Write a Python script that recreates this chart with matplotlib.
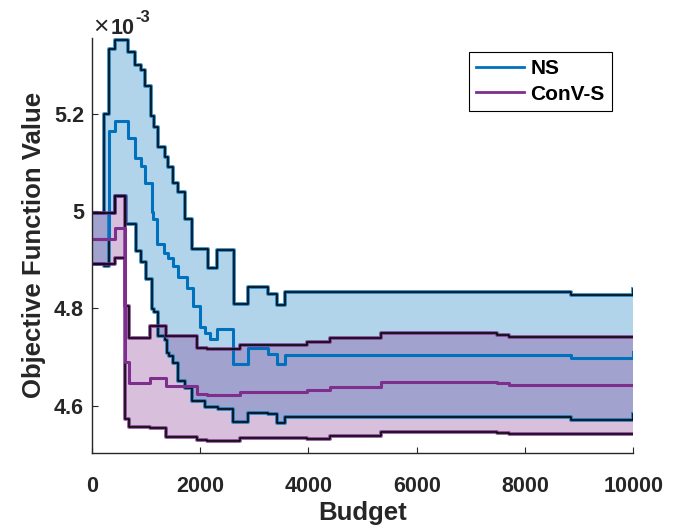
import numpy as np
import matplotlib
matplotlib.use("Agg")
import matplotlib.pyplot as plt
from matplotlib.lines import Line2D

# ---- data (objective values in units of 1e-3) ----
ns_up_x = [0, 230, 325, 430, 665, 800, 910, 990, 1100, 1150, 1218, 1353, 1400, 1500, 1590,
           1722, 1857, 2140, 2308, 2627, 2891, 3260, 3415, 3568, 8848, 10000]
ns_up_y = [4.997, 5.199, 5.332, 5.351, 5.327, 5.301, 5.289, 5.256, 5.195, 5.172, 5.131, 5.111, 5.090,
           5.058, 5.039, 4.983, 4.922, 4.884, 4.921, 4.809, 4.844, 4.829, 4.807, 4.834, 4.827, 4.840]

ns_med_x = [0, 325, 430, 665, 800, 910, 980, 1108, 1137, 1200, 1340, 1400, 1500, 1600, 1754,
            1864, 1999, 2100, 2184, 2308, 2614, 2891, 3260, 3415, 3568, 8848, 10000]
ns_med_y = [4.942, 5.164, 5.186, 5.150, 5.110, 5.093, 5.058, 4.998, 4.983, 4.933, 4.914, 4.904, 4.887,
            4.865, 4.842, 4.805, 4.762, 4.750, 4.737, 4.757, 4.686, 4.718, 4.706, 4.686, 4.704, 4.699, 4.711]

ns_lo_x = [0, 230, 325, 430, 633, 812, 910, 997, 1108, 1150, 1218, 1344, 1390, 1418, 1492, 1599,
           1722, 1852, 2092, 2337, 2614, 2891, 3260, 3415, 3568, 8848, 10000]
ns_lo_y = [4.891, 4.887, 4.997, 5.030, 4.974, 4.918, 4.896, 4.860, 4.799, 4.792, 4.744, 4.736, 4.709,
           4.703, 4.688, 4.651, 4.637, 4.610, 4.598, 4.593, 4.566, 4.586, 4.583, 4.565, 4.577, 4.571, 4.583]

cv_x = [0, 430, 615, 694, 1076, 1372, 1938, 2128, 2738, 3974, 4390, 5340, 7482, 7703, 10000]
cv_up_y = [4.997, 5.030, 4.805, 4.740, 4.764, 4.744, 4.718, 4.716, 4.725, 4.731, 4.739, 4.749,
           4.745, 4.742, 4.742]
cv_med_y = [4.942, 4.965, 4.689, 4.647, 4.658, 4.641, 4.624, 4.622, 4.629, 4.633, 4.638, 4.649,
            4.647, 4.643, 4.643]
cv_lo_y = [4.891, 4.903, 4.573, 4.556, 4.554, 4.536, 4.530, 4.528, 4.533, 4.532, 4.537, 4.547,
           4.545, 4.543, 4.543]

series_names = ["NS", "ConV-S"]
x_ticks = [0, 2000, 4000, 6000, 8000, 10000]
y_ticks = [4.6, 4.8, 5.0, 5.2]
y_tick_labels = ["4.6", "4.8", "5", "5.2"]

NS_C = "#0072BD"
CV_C = "#7E2F8E"
AX_C = "#262626"

plt.rcParams['font.family'] = ['Liberation Sans', 'DejaVu Sans']

def stepval(xs, ys, grid):
    xs = np.asarray(xs); ys = np.asarray(ys)
    idx = np.searchsorted(xs, grid, side='right') - 1
    return ys[idx]

fig = plt.figure(figsize=(7, 5.25), dpi=100)
ax = fig.add_axes([91.7/700, 1 - 452.5/525, (633.5-91.7)/700, (452.5-38.3)/525])

# NS
grid = np.union1d(np.union1d(ns_up_x, ns_lo_x), ns_med_x)
up = stepval(ns_up_x, ns_up_y, grid)
lo = stepval(ns_lo_x, ns_lo_y, grid)
ax.fill_between(grid, lo, up, step='post', color=NS_C, alpha=0.3, linewidth=0)
for xs, ys in [(ns_up_x, ns_up_y), (ns_lo_x, ns_lo_y)]:
    ax.step(xs, ys, where='post', color=NS_C, lw=2.8, alpha=0.75)
    ax.step(xs, ys, where='post', color='black', lw=1.1)
ax.step(ns_med_x, ns_med_y, where='post', color=NS_C, lw=2.2)

# ConV-S
ax.fill_between(cv_x, cv_lo_y, cv_up_y, step='post', color=CV_C, alpha=0.3, linewidth=0)
for ys in [cv_up_y, cv_lo_y]:
    ax.step(cv_x, ys, where='post', color=CV_C, lw=2.8, alpha=0.75)
    ax.step(cv_x, ys, where='post', color='black', lw=1.1)
ax.step(cv_x, cv_med_y, where='post', color=CV_C, lw=2.2)

ax.set_xlim(0, 10000)
ax.set_ylim(4.504, 5.355)
ax.set_xticks(x_ticks)
ax.set_xticklabels([str(t) for t in x_ticks])
ax.set_yticks(y_ticks)
ax.set_yticklabels(y_tick_labels)

for s in ['top', 'right']:
    ax.spines[s].set_visible(False)
for s in ['left', 'bottom']:
    ax.spines[s].set_color(AX_C)
    ax.spines[s].set_linewidth(1.0)
ax.tick_params(direction='in', length=4, width=0.8, colors=AX_C, labelsize=15.5)
ax.tick_params(axis='x', pad=17)
ax.tick_params(axis='y', pad=5.5)
for lab in ax.get_xticklabels() + ax.get_yticklabels():
    lab.set_fontweight('bold')

ax.set_xlabel("Budget", fontsize=18.5, fontweight='bold', color=AX_C, labelpad=2.5)
ax.set_ylabel("Objective Function Value", fontsize=18.5, fontweight='bold', color=AX_C, labelpad=6)

# exponent label
fig.text(93/700, 1 - 33.5/525, "\u00d7", fontsize=19, color=AX_C, va='baseline', ha='left')
fig.text(111/700, 1 - 33.5/525, "10", fontsize=15.5, fontweight='bold', color=AX_C, va='baseline', ha='left')
fig.text(135/700, 1 - 21.5/525, "-3", fontsize=12, fontweight='bold', color=AX_C, va='baseline', ha='left')

handles = [Line2D([], [], color=NS_C, lw=2), Line2D([], [], color=CV_C, lw=2)]
leg = ax.legend(handles, series_names, loc='upper right',
                bbox_to_anchor=(612/700, 1 - 52/525), bbox_transform=fig.transFigure,
                borderaxespad=0, fancybox=False, framealpha=1, edgecolor='black',
                prop={'weight': 'bold', 'size': 15}, handlelength=2.3, handletextpad=0.3,
                labelspacing=0.3, borderpad=0.35)
leg.get_frame().set_linewidth(0.8)

fig.savefig("out.png", dpi=100)
